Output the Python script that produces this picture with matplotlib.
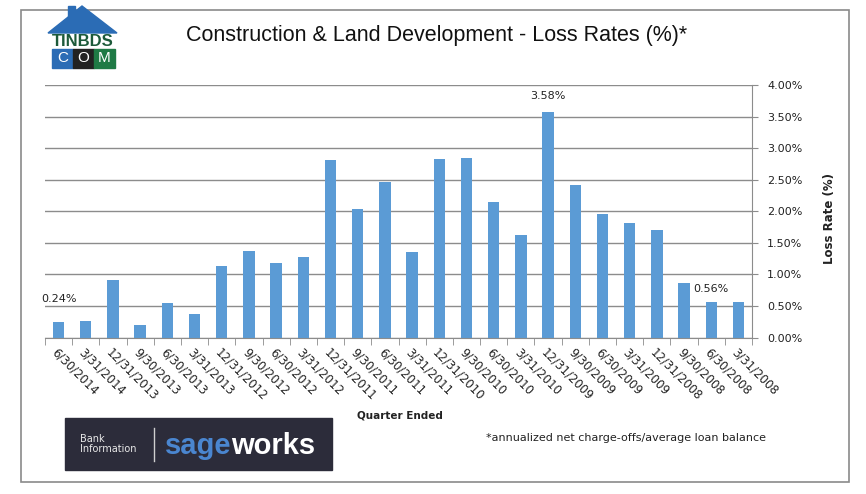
import matplotlib
matplotlib.use("Agg")
import matplotlib.pyplot as plt
from matplotlib.patches import Rectangle, Polygon
from matplotlib.ticker import FixedLocator, FuncFormatter

# Quarter-end dates in the order they appear (left to right) and loss rates in %.
quarters = ["6/30/2014", "3/31/2014", "12/31/2013", "9/30/2013", "6/30/2013",
            "3/31/2013", "12/31/2012", "9/30/2012", "6/30/2012", "3/31/2012",
            "12/31/2011", "9/30/2011", "6/30/2011", "3/31/2011", "12/31/2010",
            "9/30/2010", "6/30/2010", "3/31/2010", "12/31/2009", "9/30/2009",
            "6/30/2009", "3/31/2009", "12/31/2008", "9/30/2008", "6/30/2008",
            "3/31/2008"]
loss_rates = [0.24, 0.26, 0.91, 0.20, 0.55, 0.38, 1.13, 1.37, 1.18, 1.27,
              2.81, 2.04, 2.46, 1.35, 2.82, 2.85, 2.14, 1.62, 3.58, 2.41,
              1.95, 1.82, 1.71, 0.87, 0.56, 0.56]
y_ticks = [0.0, 0.5, 1.0, 1.5, 2.0, 2.5, 3.0, 3.5, 4.0]

# bars that carry a value label, with label offset above the bar (points)
labelled = {"6/30/2014": 17, "12/31/2009": 11.5, "6/30/2008": 9.5}

BLUE = "#5b9bd5"
GRID = "#8c8c8c"
ARIAL = ["Liberation Sans", "DejaVu Sans"]

fig = plt.figure(figsize=(8.66, 4.94), dpi=100)

# decoration layer in pixel coordinates
deco = fig.add_axes([0, 0, 1, 1], zorder=0)
deco.set_xlim(0, 866)
deco.set_ylim(494, 0)
deco.axis("off")
deco.add_patch(Rectangle((21, 10), 828, 472, fill=False, ec="#8a8a8a", lw=1.2))

# site watermark (house logo)
deco.add_patch(Polygon([(48, 33), (82, 6), (117, 33)], color="#2b6cb5"))
deco.add_patch(Rectangle((68, 6), 7, 12, color="#2b6cb5"))
deco.text(83, 41, "TINBDS", ha="center", va="center", fontsize=12,
          fontweight="bold", color="#1d5a3a", family=ARIAL)
for i, (letter, col) in enumerate(zip("COM", ["#2b6cb5", "#222222", "#1f7a45"])):
    deco.add_patch(Rectangle((52 + i * 21, 49), 21, 19, color=col))
    deco.text(62.5 + i * 21, 58.5, letter, ha="center", va="center",
              fontsize=11, color="white", family=ARIAL)

deco.text(437, 36, "Construction & Land Development - Loss Rates (%)*",
          ha="center", va="center", fontsize=15.5, color="#111111", family=ARIAL)

# data-provider logo
deco.add_patch(Rectangle((65, 418), 267, 52, color="#2c2c3a"))
deco.text(80, 444, "Bank\nInformation", ha="left", va="center", fontsize=7,
          color="#e8e8e8", linespacing=1.1)
deco.plot([154, 154], [428, 461], color="#cfcfcf", lw=1)
t = deco.text(165, 446, "sage", ha="left", va="center", fontsize=21,
              fontweight="bold", color="#4a86d0", family=ARIAL)
deco.annotate("works", xy=(1, 0), xycoords=t, va="bottom", ha="left",
              fontsize=21, fontweight="bold", color="white", family=ARIAL)

deco.text(626, 438, "*annualized net charge-offs/average loan balance",
          ha="center", va="center", fontsize=8, color="#222222")

# chart
ax = fig.add_axes([45 / 866, 156.5 / 494, 707 / 866, 252.5 / 494], zorder=1)
ax.patch.set_alpha(0)
x = list(range(len(quarters)))
ax.bar(x, loss_rates, width=0.42, color=BLUE, zorder=2)
ax.set_xlim(-0.5, len(quarters) - 0.5)
ax.set_ylim(0, 4.0)

ax.yaxis.tick_right()
ax.yaxis.set_label_position("right")
ax.set_yticks(y_ticks)
ax.yaxis.set_major_formatter(FuncFormatter(lambda v, _: f"{v:.2f}%"))
ax.grid(axis="y", color=GRID, lw=1)
ax.set_axisbelow(True)
ax.tick_params(axis="y", length=4, color=GRID, pad=7, labelsize=8, labelcolor="#222222")

ax.set_xticks(x)
ax.set_xticklabels(quarters, rotation=-45, ha="left", va="top",
                   rotation_mode="anchor", fontsize=8.5, color="#222222")
ax.tick_params(axis="x", which="major", length=0, pad=6)
ax.xaxis.set_minor_locator(FixedLocator([i - 0.5 for i in range(len(quarters) + 1)]))
ax.tick_params(axis="x", which="minor", length=5, color=GRID)

for side in ("left", "top"):
    ax.spines[side].set_visible(False)
for side in ("right", "bottom"):
    ax.spines[side].set_color(GRID)

ax.set_xlabel("Quarter Ended", fontsize=7.5, fontweight="bold", color="#222222")
ax.xaxis.set_label_coords((400 - 45) / 707, -(410 - 337.5) / 252.5)
ax.set_ylabel("Loss Rate (%)", fontsize=8.5, fontweight="bold", color="#222222",
              rotation=90)
ax.yaxis.set_label_coords((823 - 45) / 707, 0.47)

for q, off in labelled.items():
    i = quarters.index(q)
    ax.annotate(f"{loss_rates[i]:.2f}%", (i, loss_rates[i]), xytext=(0, off),
                textcoords="offset points", ha="center", va="center",
                fontsize=8, color="#222222")

fig.savefig("out.png", dpi=100)
